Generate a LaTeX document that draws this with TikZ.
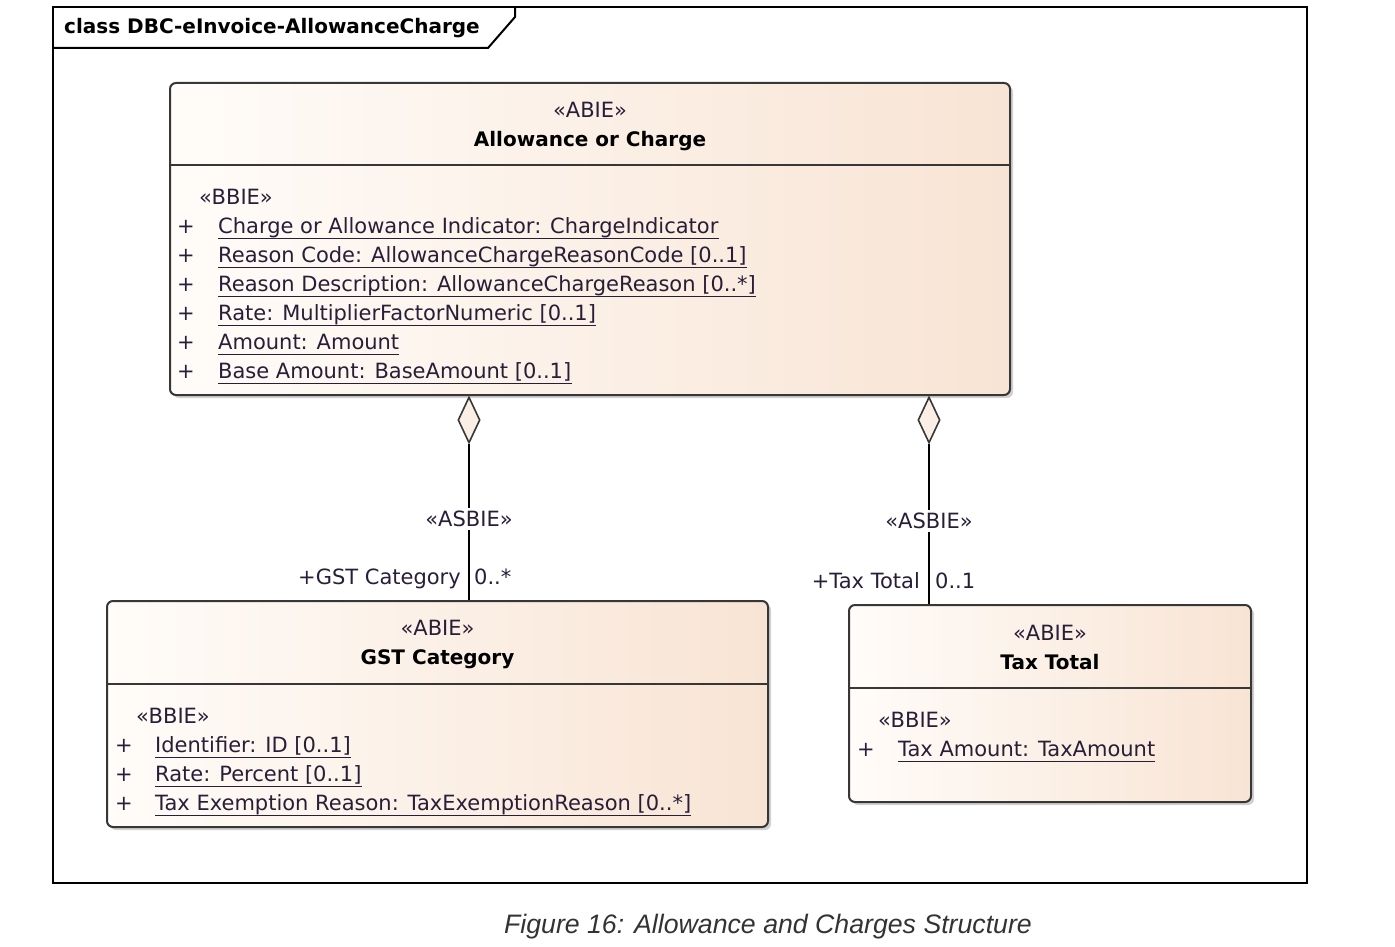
\documentclass[tikz,border=0pt]{standalone}
\usepackage{fontspec}
\usepackage{tikz}
\usetikzlibrary{shapes.geometric,shadows}
\setmainfont{DejaVu Sans}
\newfontfamily\capfont{Liberation Sans}
\definecolor{umltext}{RGB}{40,30,55}
\definecolor{umledge}{RGB}{55,55,55}
\definecolor{peach}{RGB}{248,228,212}
\definecolor{peachlight}{RGB}{255,252,249}
\newcommand{\umlsize}{\fontsize{21}{25}\selectfont}
\newcommand{\umlbold}{\fontsize{20}{24}\selectfont\bfseries}

\begin{document}
\begin{tikzpicture}[x=1pt,y=-1pt,
		clsbox/.style={draw=umledge,line width=2pt,rounded corners=6pt,left color=peachlight,right color=peach,
			drop shadow={shadow xshift=3pt,shadow yshift=-3pt,fill=black,opacity=0.18}},
		clsline/.style={draw=umledge,line width=2pt},
		txt/.style={inner sep=0pt,text=umltext,font=\umlsize},
		attr/.style={txt,anchor=base west},
		title/.style={inner sep=0pt,text=black,font=\umlbold,anchor=base},
		aggr/.style={diamond,draw=umledge,line width=1.6pt,fill=peach!60,inner sep=0pt,minimum width=22pt,minimum height=46pt},
		conn/.style={draw=black,line width=2pt},
		asbie/.style={txt,fill=white,inner sep=3pt}]
		\useasboundingbox (0,0) rectangle (1395,947);
		
		% frame
		\draw[line width=2pt] (53,7) rectangle (1307,883);
		\draw[line width=2pt] (53,48) -- (488,48) -- (515,17) -- (515,7);
		\node[inner sep=0pt,font=\umlbold,anchor=base west] (frame) at (64,34) {class DBC-eInvoice-AllowanceCharge};
		
		% classes
		\node[clsbox,minimum width=840pt,minimum height=312pt] (aoc) at (590,239) {};
		\node[clsbox,minimum width=661pt,minimum height=226pt] (gst) at (437.5,714) {};
		\node[clsbox,minimum width=402pt,minimum height=197pt] (tax) at (1050,703.5) {};
		\draw[clsline] (aoc.west |- 0,165) -- (aoc.east |- 0,165);
		\draw[clsline] (gst.west |- 0,684) -- (gst.east |- 0,684);
		\draw[clsline] (tax.west |- 0,688) -- (tax.east |- 0,688);
		
		\node[txt,anchor=base] (aoc-st) at (590,117.5) {«ABIE»};
		\node[title] (aoc-name) at (590,146.5) {Allowance or Charge};
		\node[attr] (aoc-bbie) at (199,204.5) {«BBIE»};
		\foreach \t [count=\i from 0] in {{Charge or Allowance Indicator: ChargeIndicator},{Reason Code: AllowanceChargeReasonCode [0..1]},{Reason Description: AllowanceChargeReason [0..*]},{Rate: MultiplierFactorNumeric [0..1]},{Amount: Amount},{Base Amount: BaseAmount [0..1]}}
		{
			\node[txt,anchor=base] at (186,233.5+29*\i) {+};
			\node[attr] (aoc-\i) at (218,233.5+29*\i) {\t};
			\draw[umltext,line width=1.5pt] ([yshift=-5pt]aoc-\i.base west) -- ([yshift=-5pt]aoc-\i.base east);
		}
		
		\node[txt,anchor=base] (gst-st) at (437.5,635.5) {«ABIE»};
		\node[title] (gst-name) at (437.5,664.5) {GST Category};
		\node[attr] (gst-bbie) at (136,723.5) {«BBIE»};
		\foreach \t [count=\i from 0] in {{Identifier: ID [0..1]},{Rate: Percent [0..1]},{Tax Exemption Reason: TaxExemptionReason [0..*]}}
		{
			\node[txt,anchor=base] at (124,752.5+29*\i) {+};
			\node[attr] (gst-\i) at (155,752.5+29*\i) {\t};
			\draw[umltext,line width=1.5pt] ([yshift=-5pt]gst-\i.base west) -- ([yshift=-5pt]gst-\i.base east);
		}
		
		\node[txt,anchor=base] (tax-st) at (1050,640.5) {«ABIE»};
		\node[title] (tax-name) at (1050,669.5) {Tax Total};
		\node[attr] (tax-bbie) at (878,727.5) {«BBIE»};
		\node[txt,anchor=base] at (866,756.5) {+};
		\node[attr] (tax-0) at (898,756.5) {Tax Amount: TaxAmount};
		\draw[umltext,line width=1.5pt] ([yshift=-5pt]tax-0.base west) -- ([yshift=-5pt]tax-0.base east);
		
		% aggregations
		\node[aggr] (d1) at (469,420) {};
		\node[aggr] (d2) at (929,420) {};
		\node[asbie] (a1) at (469,519) {«ASBIE»};
		\node[asbie] (a2) at (929,521) {«ASBIE»};
		\draw[conn] (d1.south) -- (a1.north);
		\draw[conn] (a1.south) -- (a1 |- gst.north);
		\draw[conn] (d2.south) -- (a2.north);
		\draw[conn] (a2.south) -- (a2 |- tax.north);
		\node[txt,anchor=base east] (r1) at (461,584.5) {+GST Category};
		\node[txt,anchor=base west] (m1) at (474,584.5) {0..*};
		\node[txt,anchor=base east] (r2) at (920,588.5) {+Tax Total};
		\node[txt,anchor=base west] (m2) at (935,588.5) {0..1};
		
		% caption
		\node[inner sep=0pt,anchor=base,font=\capfont\itshape\fontsize{26.7}{32}\selectfont,text=black!80] (cap) at (768,933) {Figure 16: Allowance and Charges Structure};
		\end{tikzpicture}
\end{document}
